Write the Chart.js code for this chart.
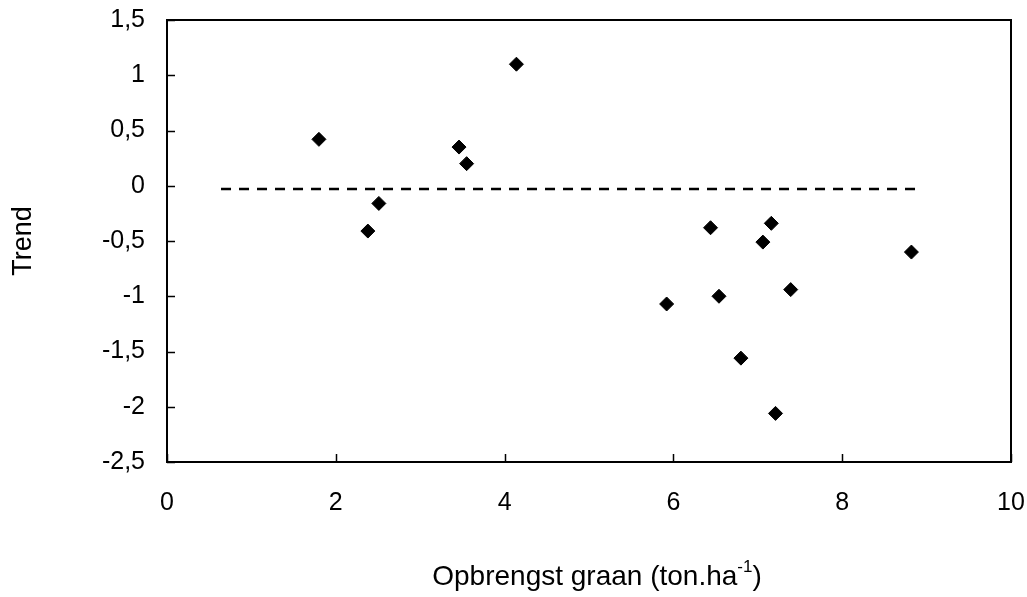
<!DOCTYPE html>
<html>
<head>
<meta charset="utf-8">
<script src="https://cdn.jsdelivr.net/npm/chart.js@4"></script>
<style>
html, body { margin: 0; padding: 0; background: #fff; }
#wrap { width: 1027px; height: 597px; }
</style>
</head>
<body>
<div id="wrap"><canvas id="chart"></canvas></div>
<script>
// grain yield (x) and trend (y)
const yieldX = [1.8, 2.38, 2.51, 3.46, 3.55, 4.14, 5.92, 6.44, 6.54, 6.8, 7.06, 7.16, 7.21, 7.39, 8.82];
const trendY = [0.42, -0.41, -0.16, 0.35, 0.2, 1.1, -1.07, -0.38, -1.0, -1.56, -0.51, -0.34, -2.06, -0.94, -0.6];

// dashed reference line
const refX = [0.64, 8.88];
const refY = [-0.03, -0.03];

const xTicks = [0, 2, 4, 6, 8, 10];
const yTicks = [1.5, 1, 0.5, 0, -0.5, -1, -1.5, -2, -2.5];

const fontFam = "'Liberation Sans', Arial, sans-serif";

const points = yieldX.map((x, i) => ({ x: x, y: trendY[i] }));
const refLine = refX.map((x, i) => ({ x: x, y: refY[i] }));

// box round the plot, ticks pointing inwards, x title with superscript
const framePlugin = {
	id: 'frame',
	afterDraw(chart) {
		const ctx = chart.ctx;
		const a = chart.chartArea;
		const xs = chart.scales.x, ys = chart.scales.y;
		ctx.save();
		ctx.strokeStyle = '#000';
		ctx.lineWidth = 2;
		ctx.strokeRect(a.left, a.top, a.right - a.left, a.bottom - a.top);
		ctx.beginPath();
		xTicks.forEach(v => {
			const px = Math.round(xs.getPixelForValue(v)) + 0.5;
			ctx.moveTo(px, a.bottom);
			ctx.lineTo(px, a.bottom - 8);
		});
		yTicks.forEach(v => {
			const py = Math.round(ys.getPixelForValue(v)) + 0.5;
			ctx.moveTo(a.left, py);
			ctx.lineTo(a.left + 8, py);
		});
		ctx.lineWidth = 1.5;
		ctx.stroke();

		// x axis title
		const main = 'Opbrengst graan (ton.ha';
		const sup = '-1';
		const tail = ')';
		ctx.fillStyle = '#000';
		ctx.textBaseline = 'alphabetic';
		ctx.font = '28px ' + fontFam;
		const w1 = ctx.measureText(main).width;
		const w3 = ctx.measureText(tail).width;
		ctx.font = '17px ' + fontFam;
		const w2 = ctx.measureText(sup).width;
		const total = w1 + w2 + w3;
		let cx = (a.left + a.right) / 2 - total / 2 + 8;
		const base = 585;
		ctx.font = '28px ' + fontFam;
		ctx.fillText(main, cx, base);
		cx += w1;
		ctx.font = '17px ' + fontFam;
		ctx.fillText(sup, cx, base - 13);
		cx += w2;
		ctx.font = '28px ' + fontFam;
		ctx.fillText(tail, cx, base);
		ctx.restore();
	}
};

const chart = new Chart(document.getElementById('chart'), {
	type: 'scatter',
	data: {
		datasets: [{
			label: 'Trend',
			data: points,
			pointStyle: 'rectRot',
			pointRadius: 7,
			pointBorderWidth: 1,
			backgroundColor: '#000',
			borderColor: '#000'
		},
		{
			type: 'line',
			label: 'nul',
			data: refLine,
			borderColor: '#000',
			borderWidth: 2.5,
			borderDash: [10, 8],
			pointRadius: 0,
			fill: false
		}]
	},
	options: {
		responsive: true,
		maintainAspectRatio: false,
		animation: false,
		layout: { padding: { top: 20, right: 16, left: 0, bottom: 0 } },
		plugins: {
			legend: { display: false },
			tooltip: { enabled: false }
		},
		scales: {
			x: {
				type: 'linear',
				min: 0,
				max: 10,
				afterBuildTicks: s => { s.ticks = xTicks.map(v => ({ value: v })); },
				afterFit: s => { s.height = 135; s.paddingLeft = 0; s.paddingRight = 0; },
				ticks: {
					color: '#000',
					font: { family: fontFam, size: 25 },
					padding: 26,
					maxRotation: 0
				},
				grid: { drawOnChartArea: false, drawTicks: false },
				border: { color: '#000', width: 2 }
			},
			y: {
				min: -2.5,
				max: 1.5,
				afterBuildTicks: s => { s.ticks = yTicks.map(v => ({ value: v })); },
				afterFit: s => { s.width = 167; s.paddingTop = 0; s.paddingBottom = 0; },
				ticks: {
					color: '#000',
					font: { family: fontFam, size: 25 },
					padding: 22,
					callback: v => String(v).replace('.', ',')
				},
				grid: { drawOnChartArea: false, drawTicks: false },
				border: { color: '#000', width: 2 },
				title: {
					display: true,
					text: 'Trend',
					color: '#000',
					font: { family: fontFam, size: 27 },
					padding: { top: 7, bottom: 0 }
				}
			}
		}
	},
	plugins: [framePlugin]
});
</script>
</body>
</html>
